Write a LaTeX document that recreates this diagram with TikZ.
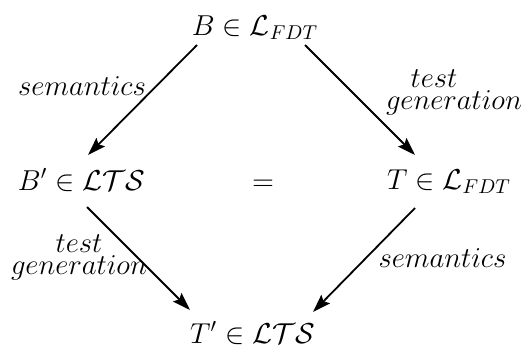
\documentclass[tikz,border=0pt]{standalone}
\usetikzlibrary{arrows.meta}
\tikzset{
  every picture/.style={>={Stealth[length=9pt,width=6pt,inset=1.5pt]}},
  obj/.style={inner sep=0pt, anchor=base, font=\Large},
  lbl/.style={inner sep=0pt, align=center, font=\fontsize{14.4}{11}\selectfont},
  arr/.style={->, line width=0.9pt},
}
\begin{document}
\begin{tikzpicture}[x=0.5pt,y=-0.5pt]
  \path[use as bounding box] (0,0) rectangle (525,348);
  % objects
  \node[obj] (top) at (255,35) {$B \in \mathcal{L}_{FDT}$};
  \node[obj] (left) at (81.5,190) {$B' \in \mathcal{LTS}$};
  \node[obj] (right) at (449,189) {$T \in \mathcal{L}_{FDT}$};
  \node[obj] (eq) at (263,190) {$=$};
  \node[obj] (bot) at (252.5,343) {$T' \in \mathcal{LTS}$};
  % labels
  \node[lbl, anchor=base] (semA) at (82,95) {$semantics$};
  \node[lbl] (genA) at (454,92) {$test$\hspace*{20pt}\\$generation$};
  \node[lbl] (genB) at (79,257) {$test$\\$generation$};
  \node[lbl, anchor=base] (semB) at (442.5,267) {$semantics$};
  % arrows
  \draw[arr] ([shift={(-58,10)}]top.base) -- ([shift={(6.5,-35)}]left.base);
  \draw[arr] ([shift={(50,10)}]top.base) -- ([shift={(-34,-34)}]right.base);
  \draw[arr] ([shift={(5.5,17)}]left.base) -- ([shift={(-62.5,-33)}]bot.base);
  \draw[arr] ([shift={(-34,19)}]right.base) -- ([shift={(60.5,-31)}]bot.base);
\end{tikzpicture}
\end{document}
